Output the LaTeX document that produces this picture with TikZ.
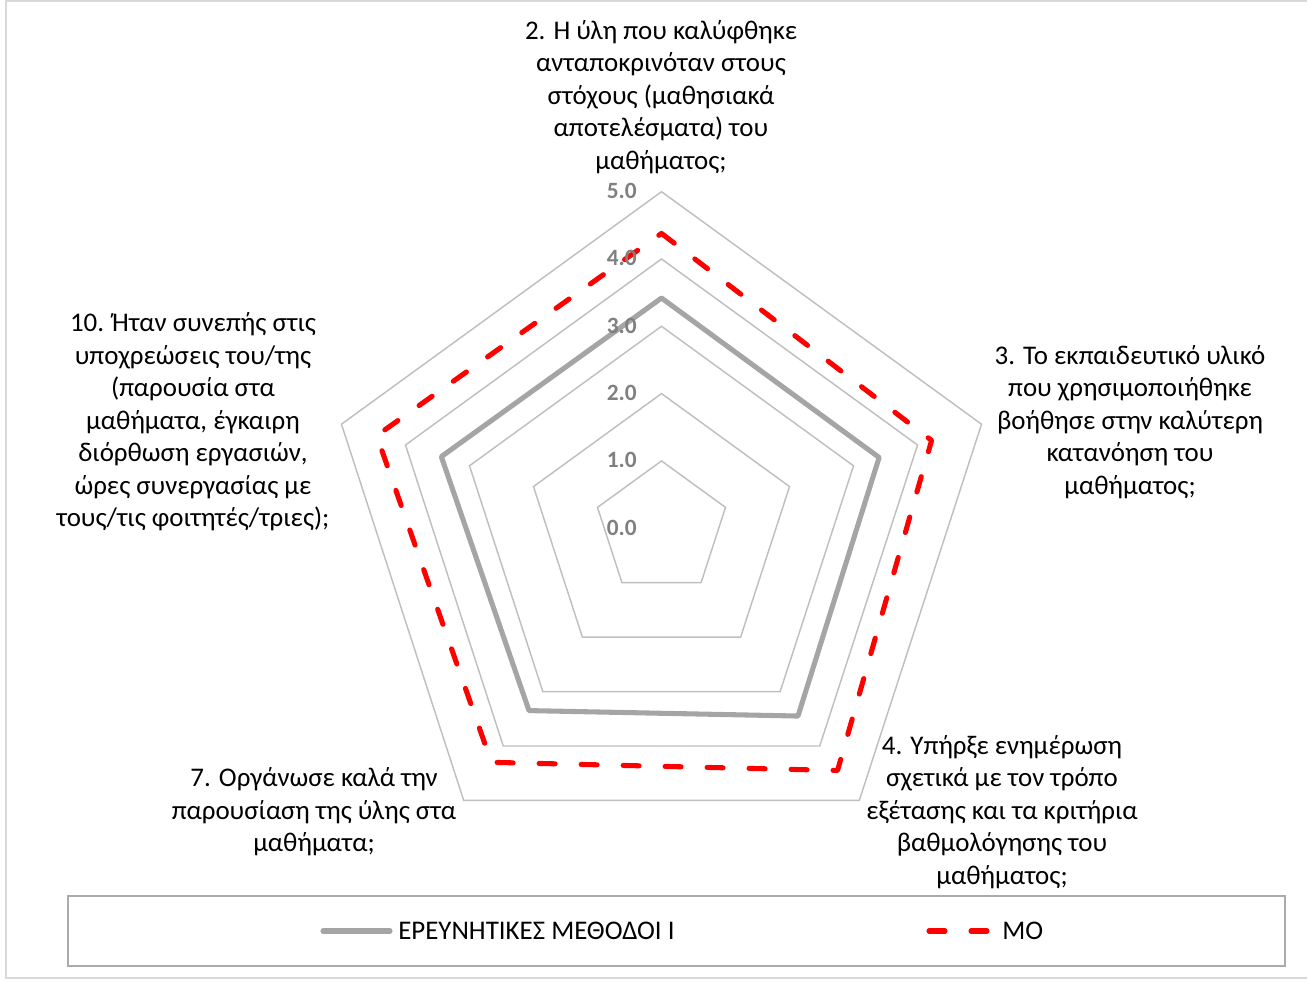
\documentclass[tikz,border=0pt]{standalone}
\usepackage{fontspec}
\setmainfont{Carlito}
\usetikzlibrary{positioning}
\definecolor{ringgray}{HTML}{BFBFBF}
\definecolor{seriesgray}{HTML}{A5A5A5}
\definecolor{axisgray}{HTML}{808080}
\definecolor{framegray}{HTML}{D9D9D9}
\definecolor{boxgray}{HTML}{ABABAB}
\newcommand*{\ringstep}{67.3}

\begin{document}
\begin{tikzpicture}[x=0.75pt,y=0.75pt,
      ring/.style={draw=ringgray,line width=1.1pt},
      grayline/.style={draw=seriesgray,line width=3.8pt,line join=round,line cap=round},
      redline/.style={draw=red,line width=3.8pt,line cap=round,line join=round,
        dash pattern=on 12pt off 19.5pt},
      axlabel/.style={text=axisgray,font=\bfseries\fontsize{17.5pt}{20pt}\selectfont,anchor=mid east,inner sep=0pt},
      catlabel/.style={align=center,font=\fontsize{20.2pt}{24.4pt}\selectfont,inner sep=0pt},
      legtext/.style={font=\fontsize{20.2pt}{24.4pt}\selectfont,anchor=west,inner sep=0pt}]
  \useasboundingbox (0,0) rectangle (1307,982);
  \draw[framegray,line width=1.5pt] (5.5,4) rectangle (1315,980.5);
  \coordinate (O) at (661.5,453.8);
  % rings
  \begin{scope}[shift={(O)}]
    \foreach \r in {1,...,5}
      \draw[ring] (90:\r*\ringstep) -- (18:\r*\ringstep) -- (-54:\r*\ringstep)
        -- (-126:\r*\ringstep) -- (162:\r*\ringstep) -- cycle;
    % series
    \draw[grayline] (90:3.42*\ringstep) -- (18:3.40*\ringstep) -- (-54:3.45*\ringstep)
      -- (-126:3.35*\ringstep) -- (162:3.44*\ringstep) -- cycle;
    \draw[redline] (90:4.38*\ringstep) -- (18:4.22*\ringstep) -- (-54:4.45*\ringstep)
      -- (-126:4.30*\ringstep) -- (162:4.45*\ringstep) -- cycle;
  \end{scope}
  % axis values
  \foreach \v in {0,...,5}
    \node[axlabel] (ax\v) at (637,450+\v*\ringstep) {\v.0};
  % categories
  \node[catlabel] (q2) at (661,885) {2. Η ύλη που καλύφθηκε\\ανταποκρινόταν στους\\στόχους (μαθησιακά\\αποτελέσματα) του\\μαθήματος;};
  \node[catlabel] (q3) at (1130,560) {3. Το εκπαιδευτικό υλικό\\που χρησιμοποιήθηκε\\βοήθησε στην καλύτερη\\κατανόηση του\\μαθήματος;};
  \node[catlabel] (q4) at (1002,170) {4. Υπήρξε ενημέρωση\\σχετικά με τον τρόπο\\εξέτασης και τα κριτήρια\\βαθμολόγησης του\\μαθήματος;};
  \node[catlabel] (q7) at (314,170) {7. Οργάνωσε καλά την\\παρουσίαση της ύλης στα\\μαθήματα;};
  \node[catlabel] (q10) at (193,560) {10. Ήταν συνεπής στις\\υποχρεώσεις του/της\\(παρουσία στα\\μαθήματα, έγκαιρη\\διόρθωση εργασιών,\\ώρες συνεργασίας με\\τους/τις φοιτητές/τριες);};
  % legend
  \draw[boxgray,line width=1.3pt] (68,16) rectangle (1285,86);
  \node[legtext] (legA) at (398,51) {ΕΡΕΥΝΗΤΙΚΕΣ ΜΕΘΟΔΟΙ Ι};
  \node[legtext] (legB) at (1002,51) {ΜΟ};
  \coordinate (legAstart) at (323,51);
  \coordinate (legAend) at (390,51);
  \coordinate (legBstart) at (929,51);
  \coordinate (legBend) at (992,51);
  \draw[grayline] (legAstart) -- (legAend);
  \draw[redline] (legBstart) -- (legBend);
\end{tikzpicture}
\end{document}
